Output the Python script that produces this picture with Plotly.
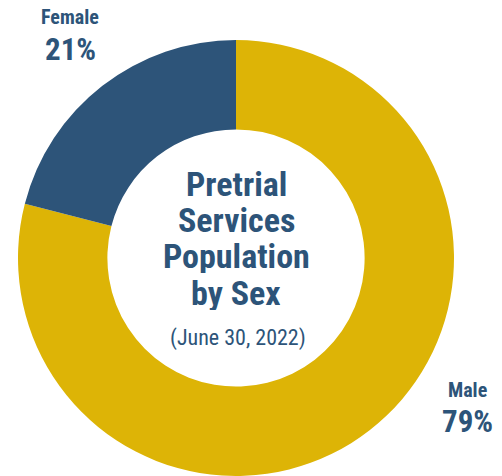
import plotly.graph_objects as go

labels = ['Male', 'Female']
shares = [79, 21]
colors = ['#DDB406', '#2D5479']
title_lines = ['Pretrial', 'Services', 'Population', 'by Sex']
subtitle = '(June 30, 2022)'

W, H = 502, 476
ml, mr, mt, mb = 18, 48, 40, 0
FONT = 'Roboto Condensed, Liberation Sans Narrow, DejaVu Sans Condensed, Arial Narrow, sans-serif'
BLUE = '#2D5479'


def px(x, y):
    # pixel position -> paper coords
    return (x - ml) / (W - ml - mr), (H - mb - y) / (H - mt - mb)


fig = go.Figure(go.Pie(
    labels=labels, values=shares, hole=0.59, sort=False,
    direction='clockwise', rotation=0,
    marker=dict(colors=colors, line=dict(width=0)),
    textinfo='none', hoverinfo='label+percent', showlegend=False,
))

ann = []
for i, line in enumerate(title_lines):
    x, y = px(236, [184, 220, 256, 293][i])
    ann.append(dict(x=x, y=y, text='<b>' + line + '</b>', showarrow=False, height=34,
                    xref='paper', yref='paper', xanchor='center', yanchor='middle',
                    font=dict(family=FONT, size=34, color=BLUE)))
x, y = px(238, 338)
ann.append(dict(x=x, y=y, text=subtitle, showarrow=False, xref='paper', yref='paper',
                xanchor='center', yanchor='middle', font=dict(family=FONT, size=22, color=BLUE)))

# outside labels
pos = {'Female': (70, 17, 49), 'Male': (468, 390, 421)}
for lab, val in zip(labels, shares):
    cx, y1, y2 = pos[lab]
    x, y = px(cx, y1)
    ann.append(dict(x=x, y=y, text='<b>' + lab + '</b>', showarrow=False, xref='paper', yref='paper',
                    xanchor='center', yanchor='middle', font=dict(family=FONT, size=20, color=BLUE)))
    x, y = px(cx, y2)
    ann.append(dict(x=x, y=y, text='<b>%d%%</b>' % val, showarrow=False, xref='paper', yref='paper',
                    xanchor='center', yanchor='middle', font=dict(family=FONT, size=31, color=BLUE)))

fig.update_layout(width=W, height=H, margin=dict(l=ml, r=mr, t=mt, b=mb),
                  paper_bgcolor='white', plot_bgcolor='white', annotations=ann)
# drop the default 8px page margin so the figure sits at the window corner
fig.write_html('out.html', config={'displayModeBar': False},
               post_script="document.body.style.margin='0';")
